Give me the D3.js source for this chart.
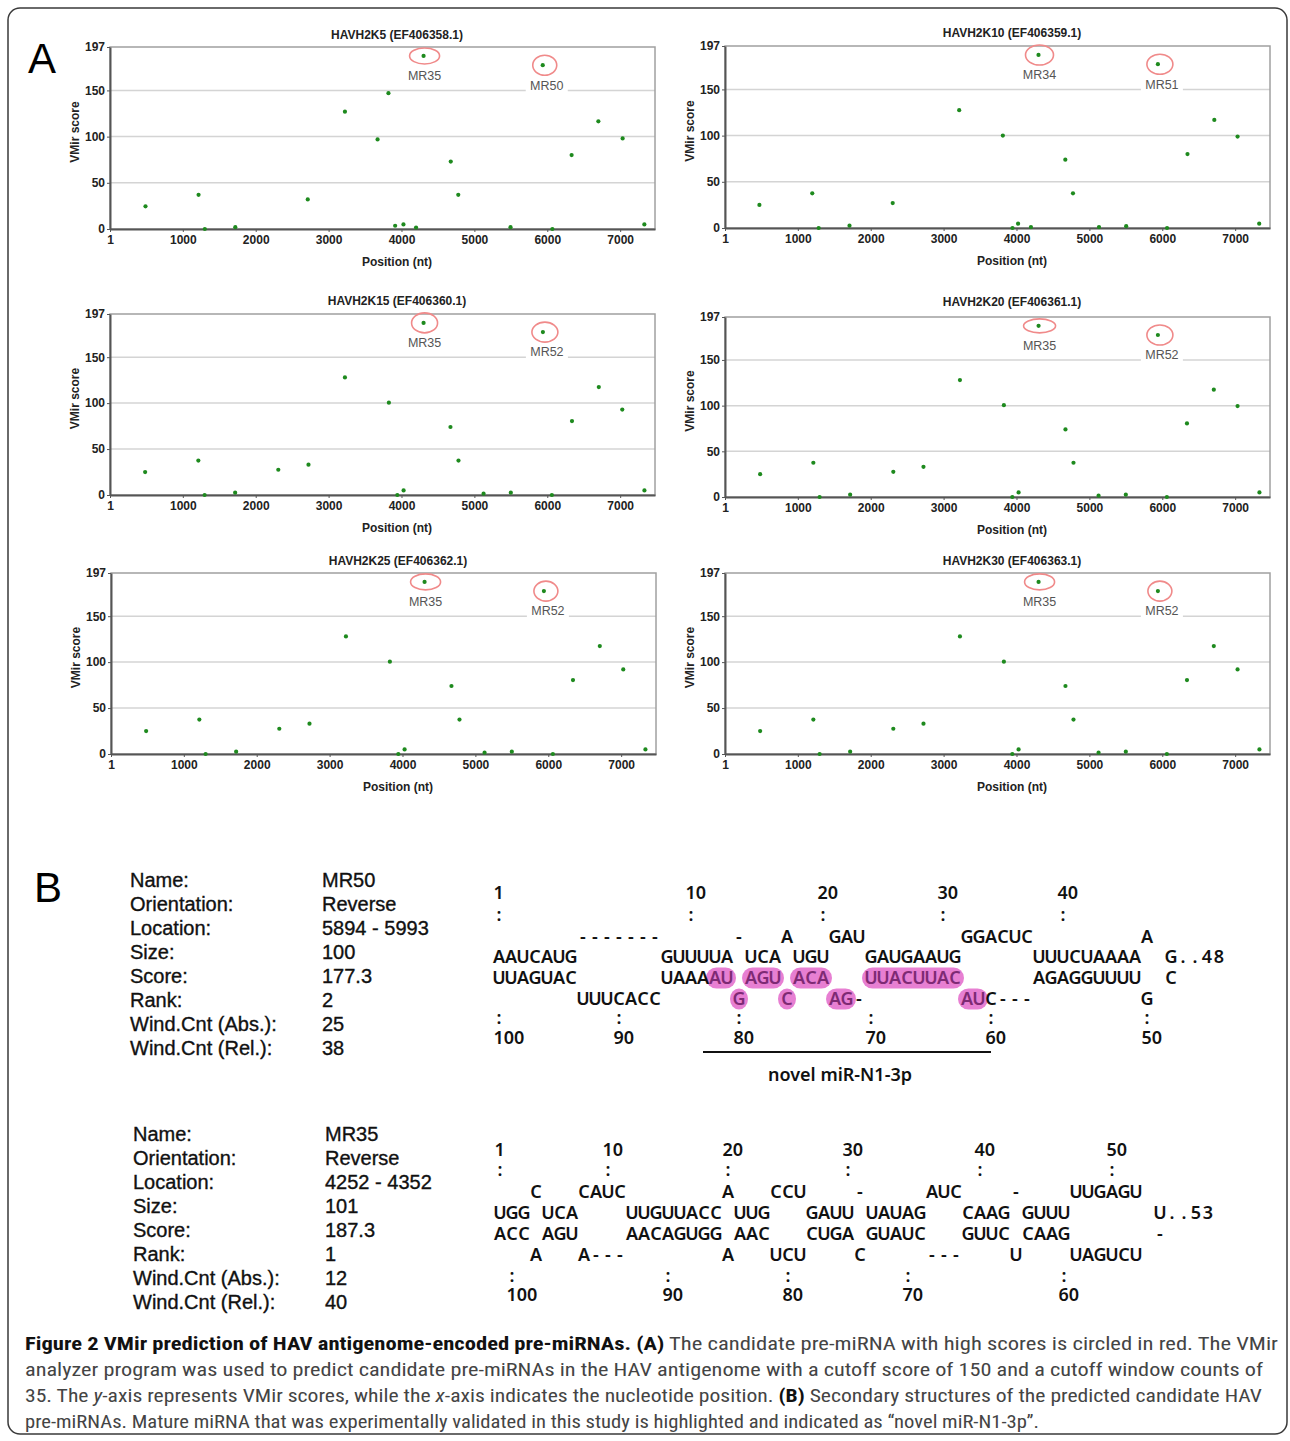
<!DOCTYPE html>
<html>
<head>
<meta charset="utf-8">
<script src="https://cdn.jsdelivr.net/npm/d3@7"></script>
<style>
  body { margin: 0; background: #fff; }
  svg { display: block; }
</style>
</head>
<body>
<svg id="fig" width="1290" height="1441"></svg>
<script>
// ---- data: panel A (VMir scores along the HAV antigenome) ----
var panelTitles = ["HAVH2K5 (EF406358.1)", "HAVH2K10 (EF406359.1)", "HAVH2K15 (EF406360.1)",
                   "HAVH2K20 (EF406361.1)", "HAVH2K25 (EF406362.1)", "HAVH2K30 (EF406363.1)"];

var scoresK5 = [[488, 24.5], [1216, 37], [1302, 0], [1720, 2], [2714, 32], [3224, 127], [3672, 97],
  [3821, 147], [3913, 3.5], [4027, 5], [4200, 1.5], [4303, 187.3], [4676, 73], [4779, 37],
  [5496, 2], [5938, 177.3], [6070, 0], [6334, 80], [6701, 116.5], [7034, 98], [7332, 5]];
var scoresK10 = [[473, 25], [1198, 37.5], [1286, 0], [1709, 2.5], [2302, 27], [3214, 127.5], [3813, 100],
  [3945, 0], [4022, 4.7], [4198, 1], [4302, 187.3], [4670, 74], [4775, 37.5], [5132, 1],
  [5505, 2], [5940, 177.3], [6066, 0], [6346, 80], [6714, 117], [7033, 99], [7330, 4.7]];
var scoresK15 = [[483, 25], [1213, 37.5], [1299, 0], [1718, 2.5], [2310, 27.5], [2724, 33], [3224, 128],
  [3827, 100.5], [3943, 0], [4029, 5], [4303, 187.3], [4672, 74], [4782, 37.5], [5126, 1.4],
  [5500, 2.5], [5940, 177.3], [6063, 0], [6339, 80.5], [6707, 117.5], [7029, 93], [7333, 5]];
var scoresK20 = [[483, 25], [1213, 37.5], [1299, 0], [1718, 2.5], [2310, 27.5], [2724, 33], [3224, 128],
  [3827, 100.5], [3943, 0], [4029, 5], [4303, 187.3], [4672, 74], [4782, 37.5], [5126, 1.4],
  [5500, 2.5], [5940, 177.3], [6063, 0], [6339, 80.5], [6707, 117.5], [7033, 99.5], [7333, 5]];
var scoresK25 = [[483, 25], [1213, 37.5], [1299, 0], [1718, 2.5], [2310, 27.5], [2724, 33], [3224, 128],
  [3827, 100.5], [3943, 0], [4029, 5], [4303, 187.3], [4672, 74], [4782, 37.5], [5126, 1.4],
  [5500, 2.5], [5940, 177.3], [6063, 0], [6339, 80.5], [6707, 117.5], [7029, 92], [7333, 5]];
var scoresK30 = [[483, 25], [1213, 37.5], [1299, 0], [1718, 2.5], [2310, 27.5], [2724, 33], [3224, 128],
  [3827, 100.5], [3943, 0], [4029, 5], [4303, 187.3], [4672, 74], [4782, 37.5], [5126, 1.4],
  [5500, 2.5], [5940, 177.3], [6063, 0], [6339, 80.5], [6707, 117.5], [7033, 92], [7333, 5]];

var panelSeries = [scoresK5, scoresK10, scoresK15, scoresK20, scoresK25, scoresK30];
var circledNames = [["MR35", "MR50"], ["MR34", "MR51"], ["MR35", "MR52"],
                    ["MR35", "MR52"], ["MR35", "MR52"], ["MR35", "MR52"]];
var xTicks = [1, 1000, 2000, 3000, 4000, 5000, 6000, 7000];
var yTicks = [0, 50, 100, 150, 197];
var gridValues = [50, 100, 150];
var genomeLength = 7478;
var scoreMax = 197;

// ---- data: panel B (pre-miRNA summaries and folds) ----
var infoLabels = ["Name:", "Orientation:", "Location:", "Size:", "Score:", "Rank:",
                  "Wind.Cnt (Abs.):", "Wind.Cnt (Rel.):"];
var mr50Values = ["MR50", "Reverse", "5894 - 5993", "100", "177.3", "2", "25", "38"];
var mr35Values = ["MR35", "Reverse", "4252 - 4352", "101", "187.3", "1", "12", "40"];

// each row: [column, text]; rows 0 and 7 hold nucleotide numbers
var mr50Rows = [
  [[0, "1"], [16, "10"], [27, "20"], [37, "30"], [47, "40"]],
  [[0, ":"], [16, ":"], [27, ":"], [37, ":"], [47, ":"]],
  [[7, "-------"], [20, "-"], [24, "A"], [28, "GAU"], [39, "GGACUC"], [54, "A"]],
  [[0, "AAUCAUG"], [14, "GUUUUA"], [21, "UCA"], [25, "UGU"], [31, "GAUGAAUG"], [45, "UUUCUAAAA"], [56, "G..48"]],
  [[0, "UUAGUAC"], [14, "UAAAAU"], [21, "AGU"], [25, "ACA"], [31, "UUACUUAC"], [45, "AGAGGUUUU"], [56, "C"]],
  [[7, "UUUCACC"], [20, "G"], [24, "C"], [28, "AG-"], [39, "AUC---"], [54, "G"]],
  [[0, ":"], [10, ":"], [20, ":"], [31, ":"], [41, ":"], [54, ":"]],
  [[0, "100"], [10, "90"], [20, "80"], [31, "70"], [41, "60"], [54, "50"]]
];
// mature miRNA highlight: [row, first column, length]
var mr50Mature = [[4, 18, 2], [4, 21, 3], [4, 25, 3], [4, 31, 8], [5, 20, 1], [5, 24, 1], [5, 28, 2], [5, 39, 2]];
var matureSpan = [17, 41];
var matureName = "novel miR-N1-3p";

var mr35Rows = [
  [[0, "1"], [9, "10"], [19, "20"], [29, "30"], [40, "40"], [51, "50"]],
  [[0, ":"], [9, ":"], [19, ":"], [29, ":"], [40, ":"], [51, ":"]],
  [[3, "C"], [7, "CAUC"], [19, "A"], [23, "CCU"], [30, "-"], [36, "AUC"], [43, "-"], [48, "UUGAGU"]],
  [[0, "UGG"], [4, "UCA"], [11, "UUGUUACC"], [20, "UUG"], [26, "GAUU"], [31, "UAUAG"], [39, "CAAG"], [44, "GUUU"], [55, "U..53"]],
  [[0, "ACC"], [4, "AGU"], [11, "AACAGUGG"], [20, "AAC"], [26, "CUGA"], [31, "GUAUC"], [39, "GUUC"], [44, "CAAG"], [55, "-"]],
  [[3, "A"], [7, "A---"], [19, "A"], [23, "UCU"], [30, "C"], [36, "---"], [43, "U"], [48, "UAGUCU"]],
  [[1, ":"], [14, ":"], [24, ":"], [34, ":"], [47, ":"]],
  [[1, "100"], [14, "90"], [24, "80"], [34, "70"], [47, "60"]]
];

// ---- layout ----
var panelLayout = [
  { left: 110, top: 47, bottom: 229, titleY: 35, ell: [15, 8, 12, 10] },
  { left: 725, top: 46, bottom: 228, titleY: 33, ell: [14, 10, 13, 10] },
  { left: 110, top: 314, bottom: 495, titleY: 301, ell: [13, 10, 13, 10] },
  { left: 725, top: 317, bottom: 497, titleY: 302, ell: [16, 7, 13, 10] },
  { left: 111, top: 573, bottom: 754, titleY: 561, ell: [15, 8, 12, 10] },
  { left: 725, top: 573, bottom: 754, titleY: 561, ell: [15, 8, 12, 10] }
];
var plotWidth = 545;
var pitch = 12;
var plotFont = "'Liberation Sans', Arial, sans-serif";
var seqFont = "'Noto Sans', 'DejaVu Sans', sans-serif";

var svg = d3.select("#fig");

svg.append("rect")
  .attr("x", 8).attr("y", 8)
  .attr("width", 1279).attr("height", 1426)
  .attr("rx", 12)
  .attr("fill", "none")
  .attr("stroke", "#3a3a3a")
  .attr("stroke-width", 1.5);

svg.append("text").attr("x", 28).attr("y", 73)
  .attr("font-family", plotFont).attr("font-size", 42)
  .text("A");
svg.append("text").attr("x", 34).attr("y", 902)
  .attr("font-family", plotFont).attr("font-size", 42)
  .text("B");

// ---- panel A scatter plots ----
panelSeries.forEach(function(series, i) {
  var lay = panelLayout[i];
  var x = d3.scaleLinear().domain([1, genomeLength]).range([lay.left, lay.left + plotWidth]);
  var y = d3.scaleLinear().domain([0, scoreMax]).range([lay.bottom, lay.top]);
  var g = svg.append("g").attr("class", "plot");

  g.selectAll("line.grid")
    .data(gridValues)
    .enter().append("line")
    .attr("class", "grid")
    .attr("x1", lay.left).attr("x2", lay.left + plotWidth)
    .attr("y1", function(d) { return y(d); })
    .attr("y2", function(d) { return y(d); })
    .attr("stroke", "#d4d4d4").attr("stroke-width", 1.5);

  g.append("rect")
    .attr("x", lay.left).attr("y", lay.top)
    .attr("width", plotWidth).attr("height", lay.bottom - lay.top)
    .attr("fill", "none").attr("stroke", "#a0a0a0").attr("stroke-width", 1.5);

  var xAxis = d3.axisBottom(x).tickValues(xTicks).tickSizeInner(3).tickSizeOuter(0)
    .tickPadding(3).tickFormat(d3.format("d"));
  var yAxis = d3.axisLeft(y).tickValues(yTicks).tickSizeInner(3).tickSizeOuter(0)
    .tickPadding(2).tickFormat(d3.format("d"));

  [g.append("g").attr("transform", "translate(0," + lay.bottom + ")").call(xAxis),
   g.append("g").attr("transform", "translate(" + lay.left + ",0)").call(yAxis)]
    .forEach(function(ax) {
      ax.select(".domain").attr("stroke", "#555").attr("stroke-width", 2);
      ax.selectAll(".tick line").attr("stroke", "#555");
      ax.selectAll("text")
        .attr("font-family", plotFont).attr("font-size", 12)
        .attr("font-weight", "bold").attr("fill", "#222");
    });

  g.append("text")
    .attr("x", lay.left + 287).attr("y", lay.titleY)
    .attr("dy", "0.35em").attr("text-anchor", "middle")
    .attr("font-family", plotFont).attr("font-size", 12).attr("font-weight", "bold")
    .attr("fill", "#222")
    .text(panelTitles[i]);

  g.append("text")
    .attr("x", lay.left + 287).attr("y", lay.bottom + 33)
    .attr("dy", "0.35em").attr("text-anchor", "middle")
    .attr("font-family", plotFont).attr("font-size", 12).attr("font-weight", "bold")
    .attr("fill", "#222")
    .text("Position (nt)");

  g.append("text")
    .attr("transform", "translate(" + (lay.left - 35) + "," + ((lay.top + lay.bottom) / 2 - 6) + ") rotate(-90)")
    .attr("dy", "0.35em").attr("text-anchor", "middle")
    .attr("font-family", plotFont).attr("font-size", 12).attr("font-weight", "bold")
    .attr("fill", "#222")
    .text("VMir score");

  // circled candidates: the two top-scoring windows
  var top = series.slice().sort(function(a, b) { return b[1] - a[1]; }).slice(0, 2);
  top.forEach(function(d, j) {
    var px = x(d[0]), py = y(d[1]);
    var lx = px + (j === 0 ? 1 : 4), ly = py + 20;
    g.append("rect")
      .attr("x", lx - 21).attr("y", ly - 9)
      .attr("width", 42).attr("height", 18)
      .attr("fill", "#fff");
    g.append("text")
      .attr("x", lx).attr("y", ly).attr("dy", "0.35em")
      .attr("text-anchor", "middle")
      .attr("font-family", plotFont).attr("font-size", 12.5)
      .attr("fill", "#555")
      .text(circledNames[i][j]);
    g.append("ellipse")
      .attr("cx", px + (j === 0 ? 1 : 2)).attr("cy", py)
      .attr("rx", lay.ell[j * 2]).attr("ry", lay.ell[j * 2 + 1])
      .attr("fill", "none").attr("stroke", "#f08a8a").attr("stroke-width", 1.6);
  });

  g.selectAll("circle.pt")
    .data(series)
    .enter().append("circle")
    .attr("class", "pt")
    .attr("cx", function(d) { return x(d[0]); })
    .attr("cy", function(d) { return y(d[1]); })
    .attr("r", 2.1)
    .attr("fill", "#1e8a1e");
});

// ---- panel B ----
function drawInfo(labelX, valueX, firstY, values) {
  var g = svg.append("g").attr("class", "info")
    .attr("font-family", plotFont).attr("font-size", 20)
    .attr("fill", "#111").attr("stroke", "#111").attr("stroke-width", 0.35);
  infoLabels.forEach(function(label, k) {
    g.append("text").attr("x", labelX).attr("y", firstY + k * 24).attr("dy", "0.35em").text(label);
    g.append("text").attr("x", valueX).attr("y", firstY + k * 24).attr("dy", "0.35em").text(values[k]);
  });
}

// bases sit on a fixed 12px column grid; numbers start at their column's left edge
function drawFold(x0, rowYs, rows, mature) {
  var g = svg.append("g").attr("class", "fold")
    .attr("font-family", seqFont).attr("font-size", 18).attr("font-weight", 600);
  var colX = function(c) { return x0 + c * pitch; };
  var inMature = {};
  (mature || []).forEach(function(h) {
    g.append("rect")
      .attr("x", colX(h[1]) - pitch / 2 - 3)
      .attr("y", rowYs[h[0]] - 10.5)
      .attr("width", h[2] * pitch + 6)
      .attr("height", 21)
      .attr("rx", 10.5)
      .attr("fill", "#e77fd2");
    for (var c = h[1]; c < h[1] + h[2]; c++) inMature[h[0] + "_" + c] = true;
  });
  rows.forEach(function(row, r) {
    var isNumber = (r === 0 || r === rows.length - 1);
    row.forEach(function(seg) {
      if (isNumber) {
        g.append("text")
          .attr("x", colX(seg[0]) - pitch / 2 + 0.5).attr("y", rowYs[r])
          .attr("dy", "0.36em").attr("fill", "#111")
          .text(seg[1]);
        return;
      }
      seg[1].split("").forEach(function(ch, k) {
        var c = seg[0] + k;
        g.append("text")
          .attr("x", colX(c)).attr("y", rowYs[r])
          .attr("dy", "0.36em").attr("text-anchor", "middle")
          .attr("fill", inMature[r + "_" + c] ? "#7e2a74" : "#111")
          .text(ch);
      });
    });
  });
  return colX;
}

drawInfo(130, 322, 880, mr50Values);
drawInfo(133, 325, 1134, mr35Values);

var mr50Col = drawFold(499, [893, 915, 937, 957, 978, 999, 1018, 1038], mr50Rows, mr50Mature);
drawFold(500, [1150, 1170, 1192, 1213, 1234, 1255, 1276, 1295], mr35Rows, null);

svg.append("line")
  .attr("x1", mr50Col(matureSpan[0])).attr("x2", mr50Col(matureSpan[1]))
  .attr("y1", 1052).attr("y2", 1052)
  .attr("stroke", "#111").attr("stroke-width", 2);
svg.append("text")
  .attr("x", 840).attr("y", 1075).attr("dy", "0.35em")
  .attr("text-anchor", "middle")
  .attr("font-family", seqFont).attr("font-size", 18).attr("font-weight", 600)
  .attr("fill", "#111")
  .text(matureName);

// ---- caption ----
var captionLines = [
  { w: 1253, parts: [["b", "Figure 2 VMir prediction of HAV antigenome-encoded pre-miRNAs. (A)"],
                     ["r", " The candidate pre-miRNA with high scores is circled in red. The VMir"]] },
  { w: 1238, parts: [["r", "analyzer program was used to predict candidate pre-miRNAs in the HAV antigenome with a cutoff score of 150 and a cutoff window counts of"]] },
  { w: 1237, parts: [["r", "35. The "], ["i", "y"], ["r", "-axis represents VMir scores, while the "], ["i", "x"],
                     ["r", "-axis indicates the nucleotide position. "], ["b", "(B)"],
                     ["r", " Secondary structures of the predicted candidate HAV"]] },
  { w: 1014, parts: [["r", "pre-miRNAs. Mature miRNA that was experimentally validated in this study is highlighted and indicated as \u201cnovel miR-N1-3p\u201d."]] }
];
captionLines.forEach(function(line, k) {
  var t = svg.append("text")
    .attr("x", 25).attr("y", 1343 + k * 26).attr("dy", "0.35em")
    .attr("font-family", "'Liberation Sans Narrow', 'Roboto Condensed', 'Liberation Sans', sans-serif")
    .attr("font-size", 19)
    .attr("textLength", line.w).attr("lengthAdjust", "spacingAndGlyphs")
    .attr("xml:space", "preserve");
  line.parts.forEach(function(p) {
    t.append("tspan")
      .attr("font-weight", p[0] === "b" ? "bold" : "normal")
      .attr("font-style", p[0] === "i" ? "italic" : "normal")
      .attr("fill", p[0] === "b" ? "#111" : "#444")
      .text(p[1]);
  });
});
</script>
</body>
</html>
